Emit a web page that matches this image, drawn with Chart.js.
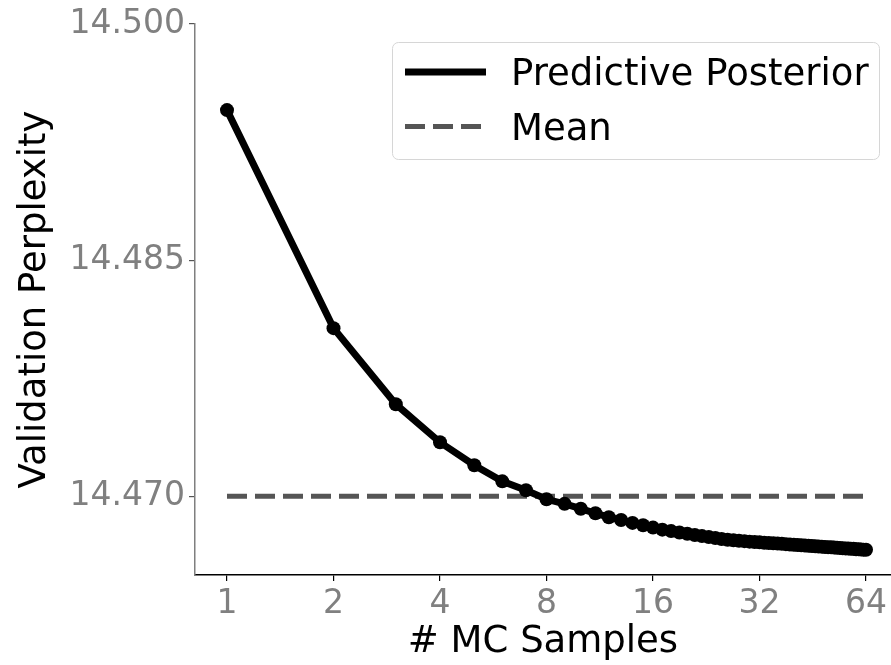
<!DOCTYPE html>
<html>
<head>
<meta charset="utf-8">
<script src="https://cdn.jsdelivr.net/npm/chart.js@4.4.0/dist/chart.umd.min.js"></script>
<style>
    body { margin: 0; background: #fff; }
    #wrap { width: 891px; height: 665px; }
</style>
</head>
<body>
<div id="wrap"><canvas id="mc_chart" width="891" height="665"></canvas></div>
<script>
// number of MC samples 1..64
var samples = [];
for (var i = 1; i <= 64; i++) samples.push(i);

// validation perplexity of the predictive posterior
var posterior_ppl = [
    14.49453, 14.48068, 14.47585, 14.47343, 14.47197, 14.47095, 14.47038, 14.46981,
    14.46952, 14.46921, 14.46892, 14.46867, 14.46849, 14.46831, 14.46816, 14.46801,
    14.46788, 14.46779, 14.46770, 14.46762, 14.46754, 14.46747, 14.46741, 14.46735,
    14.46729, 14.46724, 14.46720, 14.46717, 14.46715, 14.46712, 14.46710, 14.46708,
    14.46705, 14.46703, 14.46701, 14.46700, 14.46698, 14.46696, 14.46694, 14.46692,
    14.46691, 14.46689, 14.46687, 14.46686, 14.46684, 14.46683, 14.46681, 14.46680,
    14.46678, 14.46677, 14.46676, 14.46674, 14.46673, 14.46672, 14.46670, 14.46669,
    14.46668, 14.46667, 14.46666, 14.46664, 14.46663, 14.46662, 14.46661, 14.46660
];

// mean baseline
var mean_x = [1, 64];
var mean_ppl = [14.470, 14.470];

var x_ticks = [1, 2, 4, 8, 16, 32, 64];
var y_ticks = [14.470, 14.485, 14.500];

var font_family = "'DejaVu Sans', sans-serif";

var posterior_points = samples.map(function (s, i) { return { x: s, y: posterior_ppl[i] }; });
var mean_points = mean_x.map(function (s, i) { return { x: s, y: mean_ppl[i] }; });

// legend box drawn in the top right corner, like matplotlib
var boxLegend = {
    id: 'boxLegend',
    afterDraw: function (chart) {
        var ctx = chart.ctx;
        var x0 = 392.5, y0 = 42.5, w = 487, h = 117, r = 6;
        ctx.save();
        ctx.beginPath();
        ctx.moveTo(x0 + r, y0);
        ctx.arcTo(x0 + w, y0, x0 + w, y0 + h, r);
        ctx.arcTo(x0 + w, y0 + h, x0, y0 + h, r);
        ctx.arcTo(x0, y0 + h, x0, y0, r);
        ctx.arcTo(x0, y0, x0 + w, y0, r);
        ctx.closePath();
        ctx.fillStyle = 'rgba(255,255,255,0.8)';
        ctx.fill();
        ctx.strokeStyle = '#d6d6d6';
        ctx.lineWidth = 1;
        ctx.stroke();

        var rows = [72, 126.5];
        chart.data.datasets.forEach(function (ds, i) {
            var y = rows[i];
            ctx.beginPath();
            ctx.setLineDash(ds.borderDash || []);
            ctx.lineWidth = ds.borderWidth;
            ctx.strokeStyle = ds.borderColor;
            ctx.lineCap = 'butt';
            ctx.moveTo(405, y);
            ctx.lineTo(486, y);
            ctx.stroke();
            ctx.setLineDash([]);
            ctx.fillStyle = '#000';
            ctx.font = '37px ' + font_family;
            ctx.textBaseline = 'alphabetic';
            ctx.textAlign = 'left';
            ctx.fillText(ds.label, 511, y + 13);
        });
        ctx.restore();
    }
};

var ctx_mc = document.getElementById('mc_chart').getContext('2d');
var mc_chart = new Chart(ctx_mc, {
    type: 'line',
    data: {
        datasets: [{
            label: 'Predictive Posterior',
            data: posterior_points,
            borderColor: '#000',
            backgroundColor: '#000',
            borderWidth: 7,
            pointRadius: 7,
            pointBorderWidth: 0,
            pointBackgroundColor: '#000',
            fill: false
        }, {
            label: 'Mean',
            data: mean_points,
            borderColor: '#555555',
            borderWidth: 5,
            borderDash: [20, 8],
            pointRadius: 0,
            fill: false
        }]
    },
    options: {
        responsive: false,
        animation: false,
        events: [],
        layout: { autoPadding: false, padding: { top: 24, right: 0, left: 0, bottom: 0 } },
        plugins: {
            legend: { display: false },
            tooltip: { enabled: false }
        },
        scales: {
            x: {
                type: 'logarithmic',
                min: 0.812,
                max: 75.3,
                afterBuildTicks: function (scale) {
                    scale.ticks = x_ticks.map(function (v) { return { value: v }; });
                },
                afterFit: function (scale) {
                    scale.height = 90;
                    scale.paddingLeft = 0;
                    scale.paddingRight = 0;
                },
                ticks: {
                    autoSkip: false,
                    maxRotation: 0,
                    color: '#808080',
                    padding: 4,
                    font: { family: font_family, size: 33 },
                    callback: function (v) { return String(v); }
                },
                grid: { drawOnChartArea: false, drawTicks: true, tickLength: 6, color: '#000', lineWidth: 1.2 },
                border: { display: true, color: '#000', width: 1.5 },
                title: {
                    display: true,
                    text: '# MC Samples',
                    color: '#000',
                    font: { family: font_family, size: 37 },
                    padding: { top: 0, bottom: 0 }
                }
            },
            y: {
                type: 'linear',
                min: 14.465,
                max: 14.500,
                afterBuildTicks: function (scale) {
                    scale.ticks = y_ticks.map(function (v) { return { value: v }; });
                },
                afterFit: function (scale) {
                    scale.width = 195;
                    scale.paddingTop = 0;
                    scale.paddingBottom = 0;
                },
                ticks: {
                    color: '#808080',
                    padding: 4,
                    font: { family: font_family, size: 33 },
                    callback: function (v) { return Number(v).toFixed(3); }
                },
                grid: { drawOnChartArea: false, drawTicks: true, tickLength: 6, color: '#555', lineWidth: 1.2 },
                border: { display: true, color: '#7f7f7f', width: 1.5 },
                title: {
                    display: true,
                    text: 'Validation Perplexity',
                    color: '#000',
                    font: { family: font_family, size: 37 },
                    padding: { top: 13, bottom: 0 }
                }
            }
        }
    },
    plugins: [boxLegend]
});
</script>
</body>
</html>
